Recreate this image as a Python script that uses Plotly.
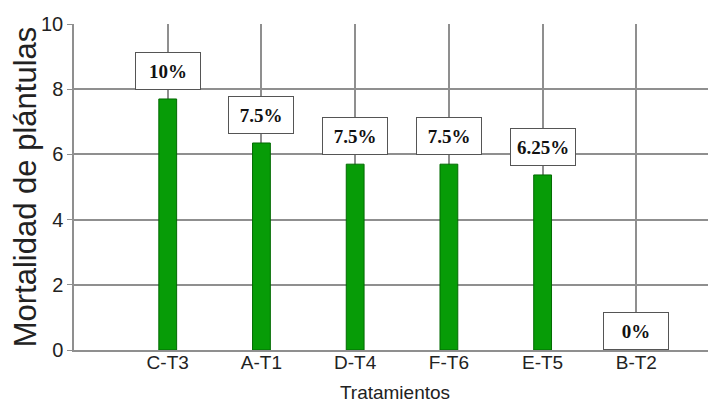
import plotly.graph_objects as go

# Mortalidad de plántulas por tratamiento
tratamientos = ["C-T3", "A-T1", "D-T4", "F-T6", "E-T5", "B-T2"]
mortalidad = [7.7, 6.35, 5.7, 5.7, 5.37, 0.0]
etiquetas = ["10%", "7.5%", "7.5%", "7.5%", "6.25%", "0%"]

GRID = "#8f8f8f"

fig = go.Figure()

fig.add_trace(go.Bar(
    x=tratamientos,
    y=mortalidad,
    width=0.19,
    marker=dict(color="#079c07", line=dict(color="#036b03", width=1)),
    showlegend=False,
))

for cat, val, lab in zip(tratamientos, mortalidad, etiquetas):
    fig.add_annotation(
        x=cat, y=val,
        text=f"<b>{lab}</b>",
        showarrow=False,
        yanchor="bottom",
        yshift=9 if val > 0 else 0,
        width=58, height=30,
        borderpad=3,
        bordercolor="#555555",
        borderwidth=1,
        bgcolor="white",
        font=dict(family="Liberation Serif, Times New Roman, serif", size=19, color="#111111"),
    )

# the page body adds an 8px margin, so the figure is shrunk to fit the window
fig.update_layout(
    width=708, height=404,
    plot_bgcolor="white",
    paper_bgcolor="white",
    margin=dict(l=66, r=0, t=16, b=62),
    bargap=0.8,
    font=dict(family="Liberation Sans, Arial, sans-serif", color="#222222"),
)

fig.update_xaxes(
    range=[-1, 5.85],
    automargin=False,
    showgrid=True, gridcolor=GRID, gridwidth=1.5,
    showline=True, linecolor=GRID, linewidth=1.5,
    tickfont=dict(size=19),
    ticklabelstandoff=-6,
    title=dict(text="Tratamientos", font=dict(size=19), standoff=14),
)

fig.update_yaxes(
    range=[0, 10],
    automargin=False,
    tickvals=[0, 2, 4, 6, 8, 10],
    showgrid=True, gridcolor=GRID, gridwidth=1.5,
    showline=True, linecolor=GRID, linewidth=1.5,
    ticks="outside", ticklen=5, tickcolor=GRID,
    tickfont=dict(size=20),
    zeroline=False,
    title=dict(text="Mortalidad de plántulas", font=dict(size=31), standoff=6),
)

fig.write_html("out.html")
